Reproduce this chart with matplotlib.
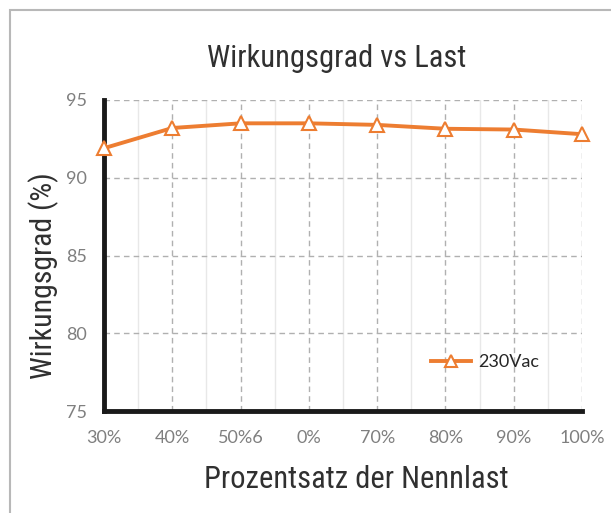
import matplotlib
matplotlib.use("Agg")
import matplotlib.pyplot as plt
from matplotlib.patches import Rectangle
from matplotlib import font_manager

categories = ["30%", "40%", "50%6", "0%", "70%", "80%", "90%", "100%"]
efficiency = [91.9, 93.2, 93.5, 93.5, 93.4, 93.15, 93.1, 92.8]
series_name = "230Vac"
y_ticks = [75, 80, 85, 90, 95]

installed = {f.name for f in font_manager.fontManager.ttflist}
narrow = [f for f in ["Roboto Condensed", "Liberation Sans Narrow", "Open Sans Condensed",
                      "Noto Sans Condensed", "DejaVu Sans Condensed", "Roboto"]
          if f in installed] + ["DejaVu Sans"]
tickfont = ["Lato", "DejaVu Sans"]

fig = plt.figure(figsize=(6.11, 5.13), dpi=100)
fig.patches.append(Rectangle((10/611, -0.1), 1.2, 1 - 10/513 + 0.1,
                             transform=fig.transFigure, fill=False,
                             edgecolor="#b8b8b8", linewidth=1.5))

ax = fig.add_axes([104/611, 1 - 411/513, (582 - 104)/611, (411 - 100)/513])
x = list(range(len(categories)))
ax.plot(x, efficiency, color="#ED7D31", linewidth=2.8, marker="^",
        markersize=10, markerfacecolor="white", markeredgecolor="#ED7D31",
        markeredgewidth=1.5, label=series_name, zorder=5, clip_on=False)

ax.set_xlim(0, len(categories) - 1)
ax.set_ylim(75, 95)
ax.set_yticks(y_ticks)
ax.set_xticks(x)
ax.set_xticklabels(categories)
ax.set_xticks([i + 0.5 for i in range(len(categories) - 1)], minor=True)

ax.grid(True, which="major", linestyle=(0, (4, 3)), color="#b0b0b0", linewidth=1)
ax.grid(True, which="minor", axis="x", linestyle="-", color="#e8e8e8", linewidth=1)
ax.set_axisbelow(True)

for s in ["top", "right"]:
    ax.spines[s].set_visible(False)
for s in ["left", "bottom"]:
    ax.spines[s].set_linewidth(3.5)
    ax.spines[s].set_color("#1a1a1a")

ax.tick_params(axis="both", which="both", length=0)
ax.tick_params(axis="x", pad=14, labelsize=13, labelcolor="#7f7f7f")
ax.tick_params(axis="y", pad=12, labelsize=13, labelcolor="#7f7f7f")
for lab in ax.get_xticklabels() + ax.get_yticklabels():
    lab.set_family(tickfont)

ax.set_title("Wirkungsgrad vs Last", fontsize=22, family=narrow,
             color="#303030", pad=23.8, x=0.487)
ax.set_xlabel("Prozentsatz der Nennlast", fontsize=22, family=narrow,
              color="#303030", va="baseline")
ax.xaxis.set_label_coords(0.527, -0.2476)
ax.set_ylabel("Wirkungsgrad (%)", fontsize=21.5, family=narrow,
              color="#303030")
ax.yaxis.set_label_coords(-0.094, 0.435)

leg = ax.legend(loc="center left", bbox_to_anchor=(0.65, 0.157), frameon=False,
                prop={"family": tickfont, "size": 13}, handlelength=2.2,
                handletextpad=0.4, markerscale=0.8)
for t in leg.get_texts():
    t.set_color("#262626")

fig.savefig("out.png", dpi=100)
